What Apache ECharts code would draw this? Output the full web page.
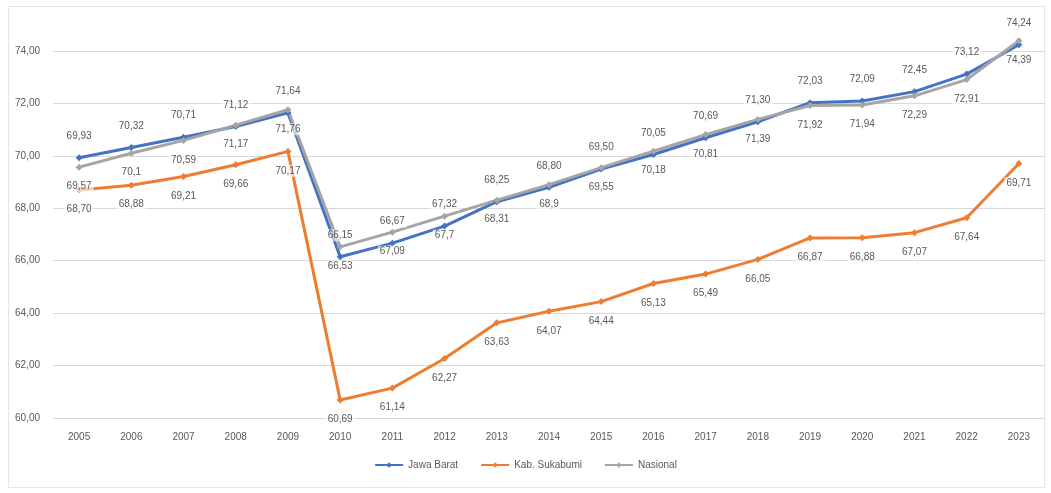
<!DOCTYPE html>
<html>
<head>
<meta charset="utf-8">
<script src="https://cdn.jsdelivr.net/npm/echarts@6/dist/echarts.min.js"></script>
<style>
html,body{margin:0;padding:0;background:#fff;}
#c{width:1051px;height:493px;}
</style>
</head>
<body>
<div id="c"></div>
<script>
const years = ['2005','2006','2007','2008','2009','2010','2011','2012','2013','2014','2015','2016','2017','2018','2019','2020','2021','2022','2023'];
const jawaBarat = [69.93,70.32,70.71,71.12,71.64,66.15,66.67,67.32,68.25,68.80,69.50,70.05,70.69,71.30,72.03,72.09,72.45,73.12,74.24];
const jawaBaratLabels = ['69,93','70,32','70,71','71,12','71,64','66,15','66,67','67,32','68,25','68,80','69,50','70,05','70,69','71,30','72,03','72,09','72,45','73,12','74,24'];
const sukabumi = [68.70,68.88,69.21,69.66,70.17,60.69,61.14,62.27,63.63,64.07,64.44,65.13,65.49,66.05,66.87,66.88,67.07,67.64,69.71];
const sukabumiLabels = ['68,70','68,88','69,21','69,66','70,17','60,69','61,14','62,27','63,63','64,07','64,44','65,13','65,49','66,05','66,87','66,88','67,07','67,64','69,71'];
const nasional = [69.57,70.1,70.59,71.17,71.76,66.53,67.09,67.7,68.31,68.9,69.55,70.18,70.81,71.39,71.92,71.94,72.29,72.91,74.39];
const nasionalLabels = ['69,57','70,1','70,59','71,17','71,76','66,53','67,09','67,7','68,31','68,9','69,55','70,18','70,81','71,39','71,92','71,94','72,29','72,91','74,39'];
const yTicks = {min: 60, max: 74, interval: 2};

const FONT = '"Liberation Sans Narrow","Liberation Sans",sans-serif';
const TXT = '#595959';

function mk(name, vals, labels, color, pos, dist) {
  return {
    name: name, type: 'line', data: vals, clip: false,
    symbol: 'diamond', symbolSize: 7,
    lineStyle: {color: color, width: 3},
    itemStyle: {color: color},
    label: {
      show: true, position: pos, distance: dist,
      formatter: p => labels[p.dataIndex],
      color: TXT, fontFamily: FONT, fontSize: 10,
      backgroundColor: 'rgba(255,255,255,0.6)', padding: [1,2]
    },
    emphasis: {disabled: true}, animation: false
  };
}

const chart = echarts.init(document.getElementById('c'), null, {renderer: 'canvas'});
chart.setOption({
  animation: false,
  backgroundColor: '#fff',
  graphic: [{type: 'rect', shape: {x: 8.5, y: 6.5, width: 1036, height: 481}, style: {fill: 'none', stroke: '#e6e6e6', lineWidth: 1}, silent: true, z: -1}],
  grid: {left: 53, right: 6, top: 51, bottom: 75, containLabel: false},
  legend: {
    bottom: 18, left: 'center', itemWidth: 28, itemHeight: 7, itemGap: 22,
    textStyle: {color: TXT, fontFamily: FONT, fontSize: 10},
    data: ['Jawa Barat', 'Kab. Sukabumi', 'Nasional']
  },
  xAxis: {
    type: 'category', data: years, boundaryGap: true,
    axisLine: {show: false}, axisTick: {show: false},
    axisLabel: {color: TXT, fontFamily: FONT, fontSize: 10, margin: 14}
  },
  yAxis: {
    type: 'value', min: yTicks.min, max: yTicks.max, interval: yTicks.interval,
    axisLine: {show: false}, axisTick: {show: false},
    splitLine: {lineStyle: {color: '#d9d9d9', width: 1}},
    axisLabel: {color: TXT, fontFamily: FONT, fontSize: 10, margin: 13,
      formatter: v => v.toFixed(2).replace('.', ',')}
  },
  series: [
    mk('Jawa Barat', jawaBarat, jawaBaratLabels, '#4472C4', 'top', 12),
    mk('Kab. Sukabumi', sukabumi, sukabumiLabels, '#ED7D31', 'bottom', 10),
    mk('Nasional', nasional, nasionalLabels, '#A5A5A5', 'bottom', 10)
  ]
});
</script>
</body>
</html>
